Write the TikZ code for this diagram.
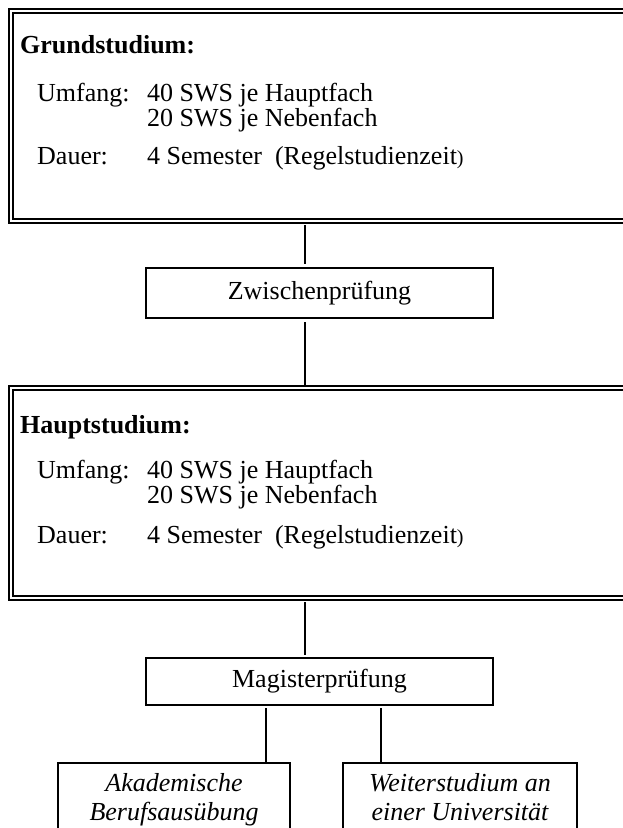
\documentclass[tikz,border=0pt]{standalone}
\usepackage{fontspec}
\setmainfont{Liberation Serif}
\begin{document}
\begin{tikzpicture}[x=1pt,y=1pt,
  bigbox/.style={draw, line width=2.6pt, inner sep=0pt, outer sep=0pt, anchor=north west},
  innerline/.style={line width=1.1pt},
  smallbox/.style={draw, line width=1.5pt, inner sep=0pt, outer sep=0pt, anchor=north west},
  conn/.style={line width=1.3pt},
  txt/.style={anchor=base west, inner sep=0pt, font=\fontsize{26}{30}\selectfont},
  head/.style={anchor=base west, inner sep=0pt, font=\fontsize{26}{30}\selectfont\bfseries},
  ctxt/.style={inner sep=0pt, font=\fontsize{26}{30}\selectfont},
  itxt/.style={inner sep=0pt, align=center, font=\fontsize{26}{29}\selectfont\itshape}
]
\useasboundingbox (0,0) rectangle (623,-828);
\fill[white] (0,0) rectangle (623,-828);
\clip (0,0) rectangle (623,-828);

% Grundstudium
\node[bigbox, minimum width=640pt, minimum height=214pt] (grund) at (9,-9) {};
\draw[innerline] ([shift={(4,-4)}]grund.north west) rectangle ([shift={(-4,4)}]grund.south east);
\node[head] (g0) at (20,-53) {Grundstudium:};
\node[txt] (g1) at (37,-101) {Umfang:};
\node[txt] (g2) at (147,-101) {40 SWS je Hauptfach};
\node[txt] (g3) at (147,-126) {20 SWS je Nebenfach};
\node[txt] (g4) at (37,-164) {Dauer:};
\node[txt] (g5) at (147,-164) {4 Semester\hspace{13pt}(Regelstudienzeit{\fontsize{20}{24}\selectfont)}};

% Zwischenpruefung
\node[smallbox, minimum width=347pt, minimum height=50pt] (zw) at (146,-268) {};
\node[ctxt] (zwt) at (zw.center) {Zwischenprüfung};

% Hauptstudium
\node[bigbox, minimum width=640pt, minimum height=214pt] (haupt) at (9,-386) {};
\draw[innerline] ([shift={(4,-4)}]haupt.north west) rectangle ([shift={(-4,4)}]haupt.south east);
\node[head] (h0) at (20,-433) {Hauptstudium:};
\node[txt] (h1) at (37,-478) {Umfang:};
\node[txt] (h2) at (147,-478) {40 SWS je Hauptfach};
\node[txt] (h3) at (147,-503) {20 SWS je Nebenfach};
\node[txt] (h4) at (37,-543) {Dauer:};
\node[txt] (h5) at (147,-543) {4 Semester\hspace{13pt}(Regelstudienzeit{\fontsize{20}{24}\selectfont)}};

% Magisterpruefung
\node[smallbox, minimum width=347pt, minimum height=47pt] (mag) at (146,-658) {};
\node[ctxt] (magt) at (mag.center) {Magisterprüfung};

% bottom boxes
\node[smallbox, minimum width=232pt, minimum height=100pt] (akad) at (58,-763) {};
\node[itxt, anchor=north] (akadt) at ([yshift=-10pt]akad.north) {Akademische\\Berufsausübung};
\node[smallbox, minimum width=234pt, minimum height=100pt] (weit) at (343,-763) {};
\node[itxt, anchor=north] (weitt) at ([yshift=-10pt]weit.north) {Weiterstudium an\\einer Universität};

% connector x positions
\coordinate (cx) at (305,0);
\coordinate (lx) at (266,0);
\coordinate (rx) at (381,0);

\draw[conn, shorten <=2pt, shorten >=4pt] (grund.south -| cx) -- (zw.north -| cx);
\draw[conn, shorten <=4pt] (zw.south -| cx) -- (haupt.north -| cx);
\draw[conn, shorten <=2pt, shorten >=3pt] (haupt.south -| cx) -- (mag.north -| cx);
\draw[conn, shorten <=3pt] (mag.south -| lx) -- (akad.north -| lx);
\draw[conn, shorten <=3pt] (mag.south -| rx) -- (weit.north -| rx);
\end{tikzpicture}
\end{document}
